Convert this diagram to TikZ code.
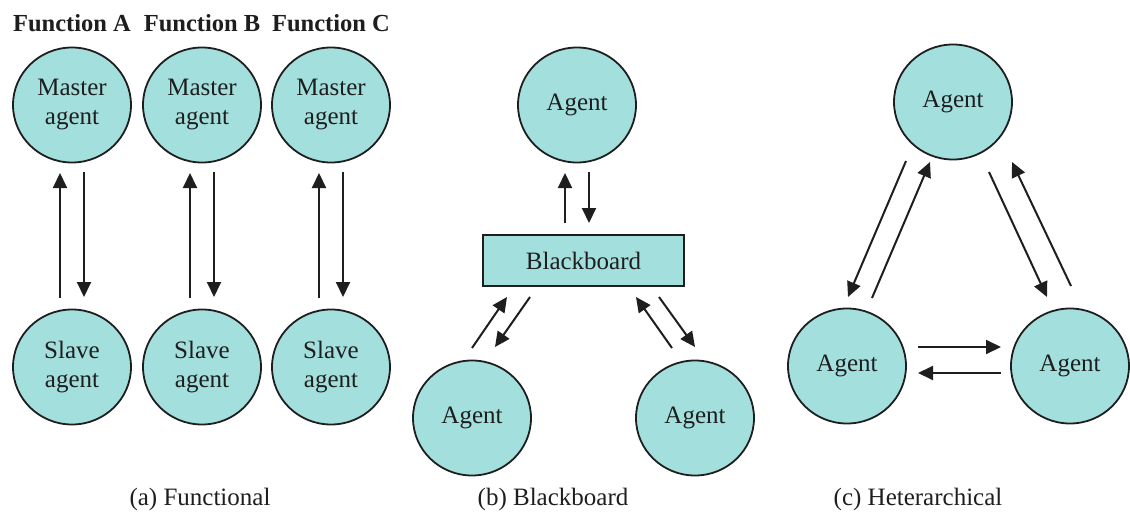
\documentclass[tikz,border=0pt]{standalone}
\usepackage{fontspec}
\setmainfont{Liberation Serif}
\usetikzlibrary{arrows.meta,calc,shapes.geometric}
\definecolor{agentfill}{RGB}{163,223,221}
\definecolor{ink}{RGB}{30,30,30}
\begin{document}
\begin{tikzpicture}[x=1pt,y=-1pt,
  agent/.style={ellipse,draw=ink,line width=1.8pt,fill=agentfill,minimum width=118pt,minimum height=115pt,inner sep=0pt,align=center,font=\fontsize{25}{29}\selectfont,text=ink},
  board/.style={rectangle,draw=ink,line width=1.8pt,fill=agentfill,minimum width=201pt,minimum height=51pt,inner sep=0pt,font=\fontsize{25}{29}\selectfont,text=ink},
  arr/.style={draw=ink,line width=2pt,-{Triangle[length=15pt,width=14pt]}},
  lbl/.style={font=\fontsize{25}{29}\selectfont,text=ink,anchor=base,inner sep=0pt},
  flbl/.style={font=\bfseries\fontsize{24.5}{28.5}\selectfont,text=ink,anchor=base,inner sep=0pt}]
\useasboundingbox (0,0) rectangle (1130,516);

% (a) Functional
\node[flbl] (fa) at (72,32) {Function A};
\node[flbl] (fb) at (202,32) {Function B};
\node[flbl] (fc) at (331,32) {Function C};
\node[agent] (mA) at (72,105) {Master\\agent};
\node[agent] (mB) at (202,105) {Master\\agent};
\node[agent] (mC) at (331,105) {Master\\agent};
\node[agent] (sA) at (72,367) {Slave\\agent};
\node[agent] (sB) at (202,367) {Slave\\agent};
\node[agent] (sC) at (331,367) {Slave\\agent};
\foreach \m/\s in {mA/sA,mB/sB,mC/sC}{
  \draw[arr] ($(\s)+(-12,-69)$) -- ($(\m)+(-12,68)$);
  \draw[arr] ($(\m)+(12,67)$) -- ($(\s)+(12,-70)$);
}
\node[lbl] (ca) at (200,505) {(a) Functional};

% (b) Blackboard
\node[agent] (T) at (577,105) {Agent};
\node[board] (BB) at (583.5,260.5) {Blackboard};
\node[agent] (BL) at (472,418) {Agent};
\node[agent] (BR) at (695,418) {Agent};
\draw[arr] ($(BB)+(-18.5,-37.5)$) -- ($(T)+(-12,68)$);
\draw[arr] ($(T)+(12,67)$) -- ($(BB)+(5.5,-37.5)$);
\draw[arr] ($(BL)+(0,-70)$) -- ($(BB)+(-76.5,36.5)$);
\draw[arr] ($(BB)+(-53.5,36.5)$) -- ($(BL)+(23,-71)$);
\draw[arr] ($(BR)+(-23,-70)$) -- ($(BB)+(52.5,36.5)$);
\draw[arr] ($(BB)+(75.5,36.5)$) -- ($(BR)+(0,-71)$);
\node[lbl] (cb) at (553,505) {(b) Blackboard};

% (c) Heterarchical
\node[agent] (HT) at (953,102) {Agent};
\node[agent] (HL) at (847,366) {Agent};
\node[agent] (HR) at (1070,366) {Agent};
\draw[arr] ($(HT)+(-47,59)$) -- ($(HL)+(1,-69)$);
\draw[arr] ($(HL)+(25,-68)$) -- ($(HT)+(-23,60)$);
\draw[arr] ($(HT)+(36,70)$) -- ($(HR)+(-23,-69)$);
\draw[arr] ($(HR)+(1,-80)$) -- ($(HT)+(59,60)$);
\draw[arr] ($(HL)+(71,-19)$) -- ($(HR)+(-69,-19)$);
\draw[arr] ($(HR)+(-69,7)$) -- ($(HL)+(71,7)$);
\node[lbl] (cc) at (918,505) {(c) Heterarchical};
\end{tikzpicture}
\end{document}
